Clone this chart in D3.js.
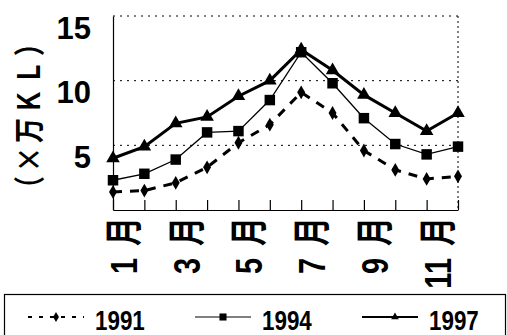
<!DOCTYPE html>
<html>
<head>
<meta charset="utf-8">
<script src="https://cdn.jsdelivr.net/npm/d3@7"></script>
<style>
  body { margin: 0; background: #fff; }
</style>
</head>
<body>
<svg id="chart" width="507" height="335"></svg>
<script>
const months = [1, 2, 3, 4, 5, 6, 7, 8, 9, 10, 11, 12]
const labelMonths = [1, 3, 5, 7, 9, 11]
const years = ["1991", "1994", "1997"]
const v1991 = [1.4, 1.5, 2.1, 3.3, 5.2, 6.6, 9.1, 7.5, 4.6, 3.1, 2.4, 2.6]
const v1994 = [2.3, 2.8, 3.9, 6.0, 6.1, 8.5, 12.2, 9.8, 7.1, 5.1, 4.3, 4.9]
const v1997 = [4.0, 4.9, 6.7, 7.2, 8.8, 10.0, 12.4, 10.8, 8.9, 7.5, 6.1, 7.5]
const yTicks = [5, 10, 15]
const yTitle = "（×万ＫＬ）"

const svg = d3.select("#chart")
const plotL = 113, plotR = 458, plotT = 16, plotB = 210

const x = d3.scalePoint().domain(months).range([plotL, plotR])
const y = d3.scaleLinear().domain([0, 15]).range([plotB, plotT])

// dotted grid + top/right border
svg.append("g").selectAll("line")
  .data(yTicks)
  .join("line")
  .attr("x1", plotL).attr("x2", plotR)
  .attr("y1", d => y(d)).attr("y2", d => y(d))
  .attr("stroke", "#000").attr("stroke-width", 1)
  .attr("stroke-dasharray", "2,5")
svg.append("line")
  .attr("x1", plotR).attr("x2", plotR)
  .attr("y1", y(15)).attr("y2", y(0))
  .attr("stroke", "#000").attr("stroke-dasharray", "2,3")

// axes
const yAxis = svg.append("g")
  .attr("transform", "translate(" + plotL + ",0)")
  .call(d3.axisLeft(y).tickValues(yTicks).tickSize(0).tickPadding(22))
yAxis.select(".domain").attr("stroke", "#000").attr("stroke-width", 1.2)
yAxis.selectAll("text")
  .attr("font-family", "Liberation Sans, Arial, sans-serif")
  .attr("font-size", 31)
  .attr("font-weight", "bold")
  .attr("fill", "#000")
  .attr("dy", 22)

const xAxis = svg.append("g")
  .attr("transform", "translate(0," + y(0) + ")")
  .call(d3.axisBottom(x).tickSizeInner(-10).tickSizeOuter(0).tickFormat(""))
xAxis.select(".domain").attr("stroke", "#000").attr("stroke-width", 1.2)
xAxis.selectAll(".tick line").attr("stroke", "#000").attr("stroke-width", 1.2)

// rotated month labels
const mLabel = svg.append("g").selectAll("text")
  .data(labelMonths)
  .join("text")
  .attr("transform", d => "translate(" + (x(d) + 24) + ",217) rotate(-90) scale(1,1.3)")
  .attr("text-anchor", "end")
  .attr("font-weight", "bold")
  .attr("fill", "#000")
mLabel.append("tspan")
  .attr("font-family", "Liberation Sans, Arial, sans-serif")
  .attr("font-size", 29)
  .text(d => d)
mLabel.append("tspan")
  .attr("dx", 12)
  .attr("font-family", "Noto Sans CJK JP, sans-serif")
  .attr("font-size", 29)
  .text("月")

// y title
svg.append("text")
  .attr("transform", "translate(40,114) rotate(-90) scale(1,1.25)")
  .attr("text-anchor", "middle")
  .attr("font-family", "Noto Sans CJK JP, sans-serif")
  .attr("font-size", 25)
  .attr("letter-spacing", 4)
  .attr("font-weight", "bold")
  .attr("fill", "#000")
  .text(yTitle)

// series
const series = [
  { name: years[0], values: v1991, width: 3, dash: "9,8", marker: d3.symbolDiamond, size: 55, lsize: 30 },
  { name: years[1], values: v1994, width: 1.3, dash: null, marker: d3.symbolSquare, size: 110, lsize: 50 },
  { name: years[2], values: v1997, width: 3, dash: null, marker: d3.symbolTriangle, size: 80, lsize: 25 }
]

const line = d3.line()
  .x((d, i) => x(months[i]))
  .y(d => y(d))

series.forEach(s => {
  svg.append("path")
    .datum(s.values)
    .attr("fill", "none")
    .attr("stroke", "#000")
    .attr("stroke-width", s.width)
    .attr("stroke-dasharray", s.dash)
    .attr("d", line)
  svg.append("g").selectAll("path")
    .data(s.values)
    .join("path")
    .attr("transform", (d, i) => "translate(" + x(months[i]) + "," + y(d) + ")")
    .attr("d", d3.symbol().type(s.marker).size(s.size))
    .attr("fill", "#000")
})

// legend
svg.append("rect")
  .attr("x", 4.5).attr("y", 294.5)
  .attr("width", 501).attr("height", 45)
  .attr("fill", "none").attr("stroke", "#000").attr("stroke-width", 1.2)

const legendX = [28, 195, 362]
const lg = svg.append("g").selectAll("g")
  .data(series)
  .join("g")
  .attr("transform", (d, i) => "translate(" + legendX[i] + ",317)")
lg.append("line")
  .attr("x1", 0).attr("x2", 56)
  .attr("stroke", "#000")
  .attr("stroke-width", d => d.width === 3 ? 2 : 1)
  .attr("stroke-dasharray", d => d.dash ? "4,7" : null)
lg.append("path")
  .attr("transform", (d, i) => "translate(" + (i === 2 ? 33 : 28) + ",0)")
  .attr("d", d => d3.symbol().type(d.marker).size(d.lsize)())
  .attr("fill", "#000")
lg.append("text")
  .attr("transform", "translate(67,13) scale(0.8,1)")
  .attr("font-family", "Liberation Sans, Arial, sans-serif")
  .attr("font-size", 28)
  .attr("font-weight", "bold")
  .attr("fill", "#000")
  .text(d => d.name)
</script>
</body>
</html>
